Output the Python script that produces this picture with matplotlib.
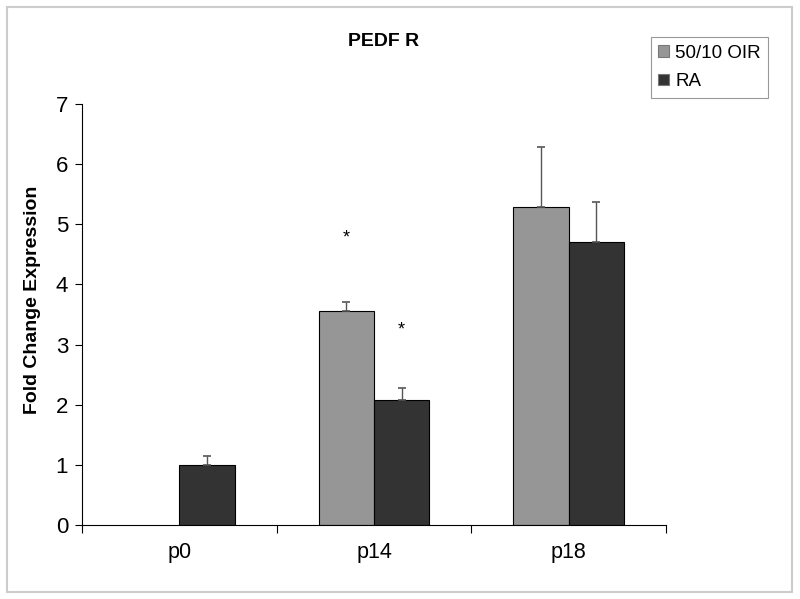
import numpy as np
import matplotlib.pyplot as plt
from matplotlib.patches import Rectangle

plt.rcParams['font.family'] = ['Liberation Sans', 'DejaVu Sans']

days = ['p0', 'p14', 'p18']
oir = [0.0, 3.55, 5.28]
oir_err = [0.0, 0.15, 1.0]
ra = [1.0, 2.07, 4.70]
ra_err = [0.15, 0.21, 0.67]
stars_oir = [None, 4.77, None]
stars_ra = [None, 3.24, None]

x = np.arange(len(days))
w = 0.285

fig = plt.figure(figsize=(8, 5.99), dpi=100)
ax = fig.add_axes([0.1025, 0.1235, 0.73, 0.703])

# only draw the OIR bars that exist
mask = np.array(oir) > 0
ax.bar(x[mask] - w/2, np.array(oir)[mask], w, color='#969696', edgecolor='black',
       linewidth=0.8, label='50/10 OIR', zorder=2)
ax.bar(x + w/2, ra, w, color='#333333', edgecolor='black', linewidth=0.8,
       label='RA', zorder=2)

ax.errorbar(x[mask] - w/2, np.array(oir)[mask],
            yerr=[np.zeros(mask.sum()), np.array(oir_err)[mask]],
            fmt='none', ecolor='#555555', elinewidth=1, capsize=3, capthick=1.2, zorder=3)
ax.errorbar(x + w/2, ra, yerr=[np.zeros(len(ra)), ra_err],
            fmt='none', ecolor='#555555', elinewidth=1, capsize=3, capthick=1.2, zorder=3)

for i in range(len(days)):
    if stars_oir[i] is not None:
        ax.text(x[i] - w/2, stars_oir[i], '*', ha='center', va='center', fontsize=13)
    if stars_ra[i] is not None:
        ax.text(x[i] + w/2, stars_ra[i], '*', ha='center', va='center', fontsize=13)

ax.set_xlim(-0.5, len(days) - 0.5)
ax.set_ylim(0, 7)
ax.set_yticks(range(8))
ax.tick_params(axis='y', labelsize=16, length=5, direction='out', pad=5)
ax.set_xticks(np.arange(len(days) + 1) - 0.5)
ax.set_xticklabels([])
ax.set_xticks(x, minor=True)
ax.set_xticklabels(days, minor=True)
ax.tick_params(axis='x', which='major', length=6, direction='out')
ax.tick_params(axis='x', which='minor', length=0, labelsize=15.5, pad=12)

ax.spines['top'].set_visible(False)
ax.spines['right'].set_visible(False)

ax.set_ylabel('Fold Change Expression', fontsize=14, fontweight='bold')
ax.yaxis.set_label_coords(-0.07, 0.534)
fig.text(0.48, 1 - 42/599, 'PEDF R', ha='center', va='center',
         fontsize=14, fontweight='bold')

leg = ax.legend(loc='upper left', bbox_to_anchor=(0.8134, 0.9377),
                bbox_transform=fig.transFigure, fontsize=13.5, fancybox=False,
                edgecolor='#999999', framealpha=1, handlelength=0.6,
                handleheight=0.6, handletextpad=0.3, borderpad=0.4,
                labelspacing=0.6, borderaxespad=0)
leg.get_frame().set_linewidth(0.8)
for h in leg.legend_handles:
    h.set_edgecolor('#777777')

fig.patches.append(Rectangle((7/800, 1 - 592/599), 785/800, 585/599,
                             transform=fig.transFigure, fill=False,
                             edgecolor='#cccccc', linewidth=1.5))

fig.savefig('out.png', dpi=100)
